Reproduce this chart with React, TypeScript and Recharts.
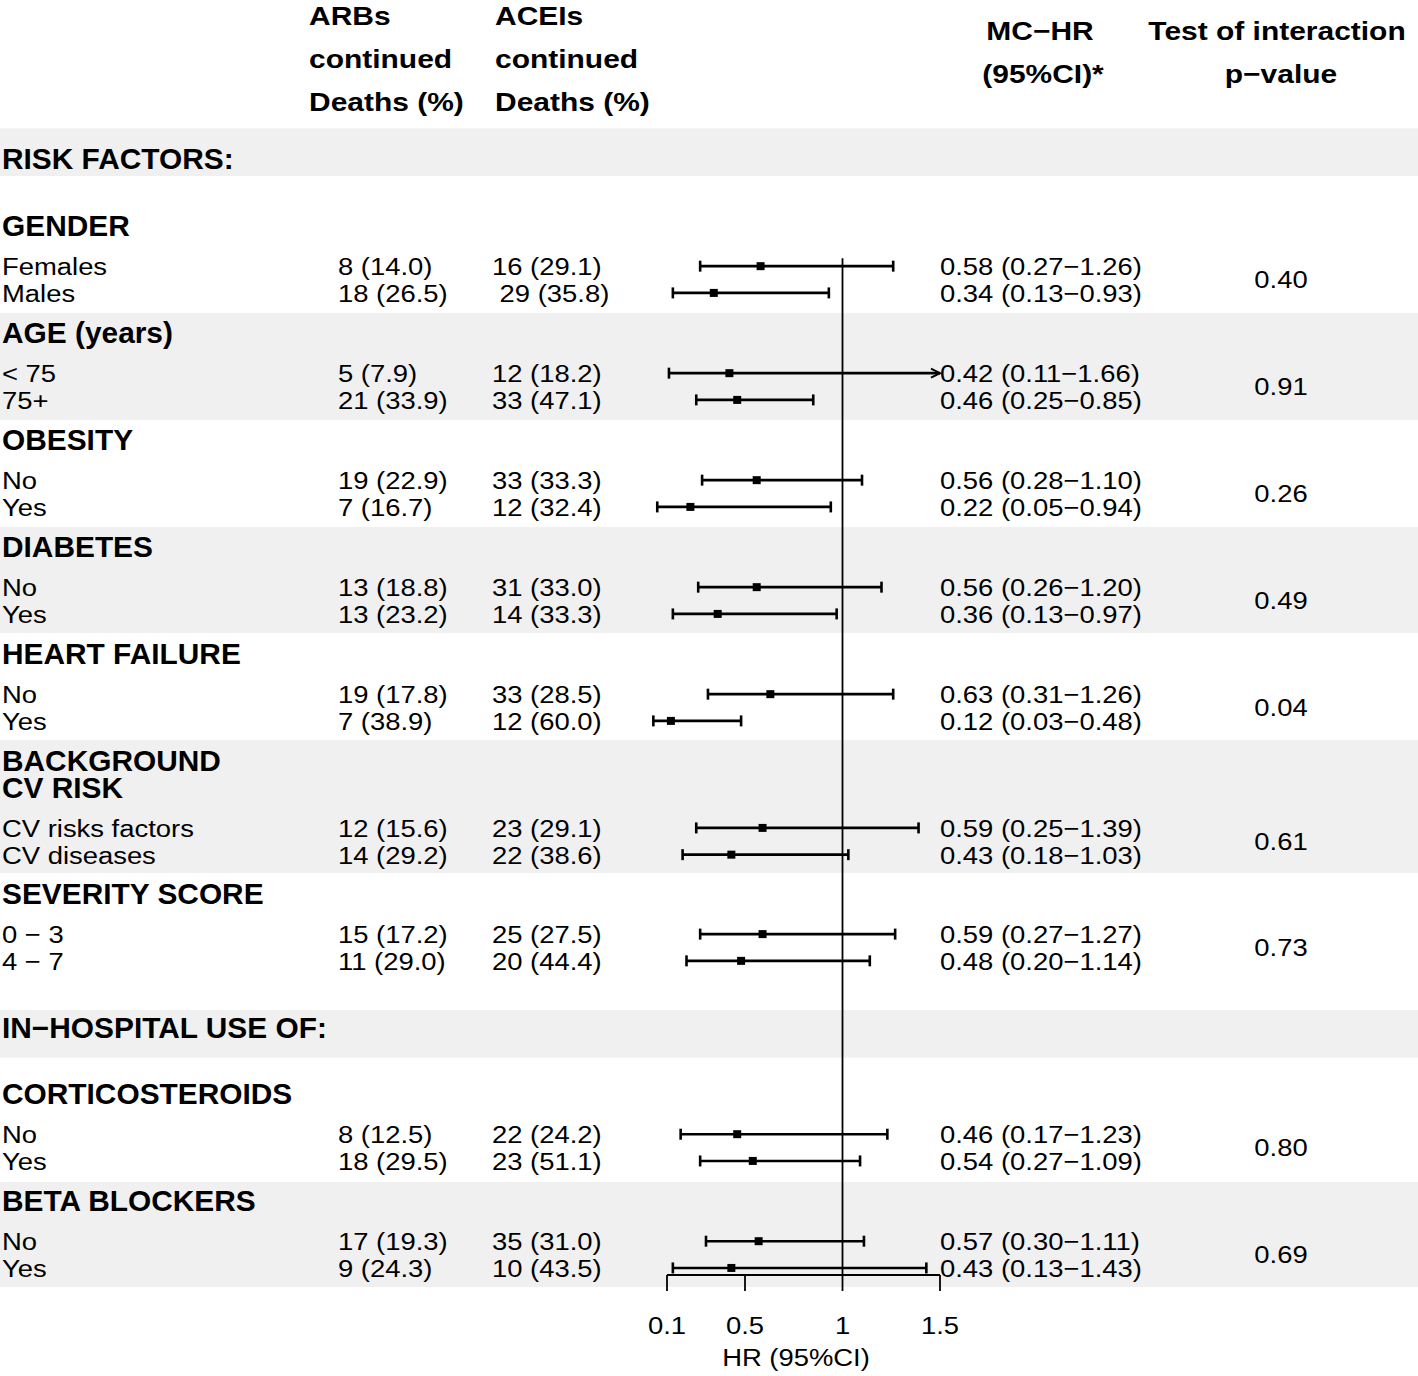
import React from 'react';
import { ComposedChart, Scatter, XAxis, YAxis, ReferenceArea, ReferenceLine } from 'recharts';

// ---- data ----
const sectionTitles = ['RISK FACTORS:', 'IN−HOSPITAL USE OF:'];
const groupTitles = [
  ['GENDER'], ['AGE (years)'], ['OBESITY'], ['DIABETES'], ['HEART FAILURE'],
  ['BACKGROUND', 'CV RISK'], ['SEVERITY SCORE'], ['CORTICOSTEROIDS'], ['BETA BLOCKERS'],
];
const subgroups = [
  'Females', 'Males', '< 75', '75+', 'No', 'Yes', 'No', 'Yes', 'No', 'Yes',
  'CV risks factors', 'CV diseases', '0 − 3', '4 − 7', 'No', 'Yes', 'No', 'Yes',
];
const arbsDeaths = [
  '8 (14.0)', '18 (26.5)', '5 (7.9)', '21 (33.9)', '19 (22.9)', '7 (16.7)', '13 (18.8)', '13 (23.2)',
  '19 (17.8)', '7 (38.9)', '12 (15.6)', '14 (29.2)', '15 (17.2)', '11 (29.0)', '8 (12.5)', '18 (29.5)',
  '17 (19.3)', '9 (24.3)',
];
const aceisDeaths = [
  '16 (29.1)', ' 29 (35.8)', '12 (18.2)', '33 (47.1)', '33 (33.3)', '12 (32.4)', '31 (33.0)', '14 (33.3)',
  '33 (28.5)', '12 (60.0)', '23 (29.1)', '22 (38.6)', '25 (27.5)', '20 (44.4)', '22 (24.2)', '23 (51.1)',
  '35 (31.0)', '10 (43.5)',
];
const hrEst = [0.58, 0.34, 0.42, 0.46, 0.56, 0.22, 0.56, 0.36, 0.63, 0.12, 0.59, 0.43, 0.59, 0.48, 0.46, 0.54, 0.57, 0.43];
const hrLow = [0.27, 0.13, 0.11, 0.25, 0.28, 0.05, 0.26, 0.13, 0.31, 0.03, 0.25, 0.18, 0.27, 0.20, 0.17, 0.27, 0.30, 0.13];
const hrHigh = [1.26, 0.93, 1.66, 0.85, 1.10, 0.94, 1.20, 0.97, 1.26, 0.48, 1.39, 1.03, 1.27, 1.14, 1.23, 1.09, 1.11, 1.43];
const pInteraction = ['0.40', '0.91', '0.26', '0.49', '0.04', '0.61', '0.73', '0.80', '0.69'];
const axisTicks = [0.1, 0.5, 1, 1.5];

// ---- layout (row positions in line units, 1 unit = one text line) ----
const W = 1418;
const H = 1376;
const UNIT = 26.75;
const PLOT_BOTTOM = 1275;
const PX_PER_HR = 195;
const X_MIN = 0.1 - 667 / PX_PER_HR;
const X_MAX = 0.1 + (W - 667) / PX_PER_HR;
const Y_MAX = PLOT_BOTTOM / UNIT;
const AXIS_MAX = 1.5;

const sectionPos = [5.94, 38.4];
const groupPos = [8.45, 12.45, 16.45, 20.45, 24.45, 28.45, 33.42, 40.9, 44.9];
const rowPos = [9.95, 10.95, 13.95, 14.95, 17.95, 18.95, 21.95, 22.95, 25.95, 26.95, 30.95, 31.95, 34.92, 35.92, 42.4, 43.4, 46.4, 47.4];
const bands = [[4.79, 6.58], [11.7, 15.7], [19.7, 23.66], [27.66, 32.64], [37.76, 39.54], [44.19, 48.11]];

const FONT = "'Liberation Sans', Arial, Helvetica, sans-serif";
const REG = 24.7;
const REG_SX = 1.11;
const BOLD = 29;
const BOLD_SX = 1.03;
const HEAD = 25.6;
const HEAD_SX = 1.17;

const COL_LABEL = 2;
const COL_ARB = 338;
const COL_ACE = 492;
const COL_HR = 940;
const COL_P = 1281;

function Txt({ x, y, size, sx, bold, anchor, children }: any) {
  return (
    <text
      transform={`translate(${x},${y}) scale(${sx},1)`}
      fontFamily={FONT}
      fontSize={size}
      fontWeight={bold ? 'bold' : 'normal'}
      textAnchor={anchor || 'start'}
      fill="#000"
      style={{ whiteSpace: 'pre' }}
    >
      {children}
    </text>
  );
}

// one entry per text line of the table
const tableRows: any[] = [];
sectionTitles.forEach((t, i) => tableRows.push({ x: 0, y: sectionPos[i], kind: 'title', text: t }));
groupTitles.forEach((lines, i) =>
  lines.forEach((t, j) => tableRows.push({ x: 0, y: groupPos[i] + j * 0.98, kind: 'title', text: t }))
);
subgroups.forEach((s, i) =>
  tableRows.push({
    x: 0,
    y: rowPos[i],
    kind: 'row',
    text: s,
    arb: arbsDeaths[i],
    ace: aceisDeaths[i],
    hr: `${hrEst[i].toFixed(2)} (${hrLow[i].toFixed(2)}−${hrHigh[i].toFixed(2)})`,
  })
);
pInteraction.forEach((p, i) =>
  tableRows.push({ x: 0, y: (rowPos[2 * i] + rowPos[2 * i + 1]) / 2, kind: 'p', text: p })
);

const pointRows = hrEst.map((v, i) => ({ x: v, y: rowPos[i] }));

const TableCell = (props: any) => {
  const { cy, payload } = props;
  if (payload.kind === 'title') {
    return <Txt x={COL_LABEL} y={cy + 0.358 * BOLD} size={BOLD} sx={BOLD_SX} bold>{payload.text}</Txt>;
  }
  const base = cy + 0.358 * REG;
  if (payload.kind === 'p') {
    return <Txt x={COL_P} y={base} size={REG} sx={REG_SX} anchor="middle">{payload.text}</Txt>;
  }
  return (
    <g>
      <Txt x={COL_LABEL} y={base} size={REG} sx={REG_SX}>{payload.text}</Txt>
      <Txt x={COL_ARB} y={base} size={REG} sx={REG_SX}>{payload.arb}</Txt>
      <Txt x={COL_ACE} y={base} size={REG} sx={REG_SX}>{payload.ace}</Txt>
      <Txt x={COL_HR} y={base} size={REG} sx={REG_SX}>{payload.hr}</Txt>
    </g>
  );
};

const ciShape = (arrow: boolean) => (p: any) => {
  const { x1, y1, x2, y2 } = p;
  const cap = 5.5;
  const sw = 2.6;
  return (
    <g>
      <line x1={x1} y1={y1} x2={x2} y2={y2} stroke="#000" strokeWidth={sw} />
      <line x1={x1} y1={y1 - cap} x2={x1} y2={y1 + cap} stroke="#000" strokeWidth={sw} />
      {arrow ? (
        <path
          d={`M${x2 - 9},${y2 - 4.5} L${x2},${y2} L${x2 - 9},${y2 + 4.5}`}
          stroke="#000"
          strokeWidth={2}
          fill="none"
        />
      ) : (
        <line x1={x2} y1={y2 - cap} x2={x2} y2={y2 + cap} stroke="#000" strokeWidth={sw} />
      )}
    </g>
  );
};

const AxisTick = (props: any) => {
  const { x, y, payload } = props;
  return (
    <Txt x={x} y={y + 43.3} size={REG} sx={REG_SX} anchor="middle">
      {String(payload.value)}
    </Txt>
  );
};

export default function App() {
  return (
    <div style={{ position: 'relative', width: W, height: H, background: '#fff' }}>
      <style>{'body{margin:0}'}</style>
      <ComposedChart width={W} height={H} margin={{ top: 0, right: 0, bottom: 0, left: 0 }}>
        {bands.map(([a, b], i) => (
          <ReferenceArea
            key={`band-${i}`}
            x1={X_MIN}
            x2={X_MAX}
            y1={a}
            y2={b}
            fill="#f0f0f0"
            fillOpacity={1}
            stroke="none"
            ifOverflow="visible"
          />
        ))}
        <XAxis
          type="number"
          dataKey="x"
          domain={[X_MIN, X_MAX]}
          ticks={axisTicks}
          interval={0}
          axisLine={false}
          tickLine={{ stroke: '#000', strokeWidth: 1.8 }}
          tickSize={16}
          tickMargin={0}
          height={H - PLOT_BOTTOM}
          tick={<AxisTick />}
        />
        <YAxis type="number" dataKey="y" domain={[0, Y_MAX]} reversed hide />
        <ReferenceLine
          segment={[{ x: 1, y: 258.3 / UNIT }, { x: 1, y: Y_MAX }]}
          stroke="#000"
          strokeWidth={1.8}
          ifOverflow="visible"
        />
        <ReferenceLine
          segment={[{ x: axisTicks[0], y: Y_MAX }, { x: axisTicks[axisTicks.length - 1], y: Y_MAX }]}
          stroke="#000"
          strokeWidth={1.8}
          ifOverflow="visible"
        />
        {hrEst.map((v, i) => (
          <ReferenceLine
            key={`ci-${i}`}
            segment={[{ x: hrLow[i], y: rowPos[i] }, { x: Math.min(hrHigh[i], AXIS_MAX), y: rowPos[i] }]}
            ifOverflow="visible"
            shape={ciShape(hrHigh[i] > AXIS_MAX)}
          />
        ))}
        <Scatter data={pointRows} shape="square" fill="#000" isAnimationActive={false} />
        <Scatter data={tableRows} shape={<TableCell />} isAnimationActive={false} />
      </ComposedChart>
      <svg width={W} height={H} style={{ position: 'absolute', left: 0, top: 0, pointerEvents: 'none' }}>
        <Txt x={309} y={25} size={HEAD} sx={HEAD_SX} bold>ARBs</Txt>
        <Txt x={309} y={68} size={HEAD} sx={HEAD_SX} bold>continued</Txt>
        <Txt x={309} y={111} size={HEAD} sx={HEAD_SX} bold>Deaths (%)</Txt>
        <Txt x={495} y={25} size={HEAD} sx={HEAD_SX} bold>ACEIs</Txt>
        <Txt x={495} y={68} size={HEAD} sx={HEAD_SX} bold>continued</Txt>
        <Txt x={495} y={111} size={HEAD} sx={HEAD_SX} bold>Deaths (%)</Txt>
        <Txt x={1040} y={39.5} size={HEAD} sx={HEAD_SX} bold anchor="middle">MC−HR</Txt>
        <Txt x={1043} y={83} size={HEAD} sx={HEAD_SX} bold anchor="middle">(95%CI)*</Txt>
        <Txt x={1277} y={39.5} size={HEAD} sx={HEAD_SX} bold anchor="middle">Test of interaction</Txt>
        <Txt x={1281} y={83} size={HEAD} sx={HEAD_SX} bold anchor="middle">p−value</Txt>
        <Txt x={796} y={1366} size={REG} sx={REG_SX} anchor="middle">HR (95%CI)</Txt>
      </svg>
    </div>
  );
}
